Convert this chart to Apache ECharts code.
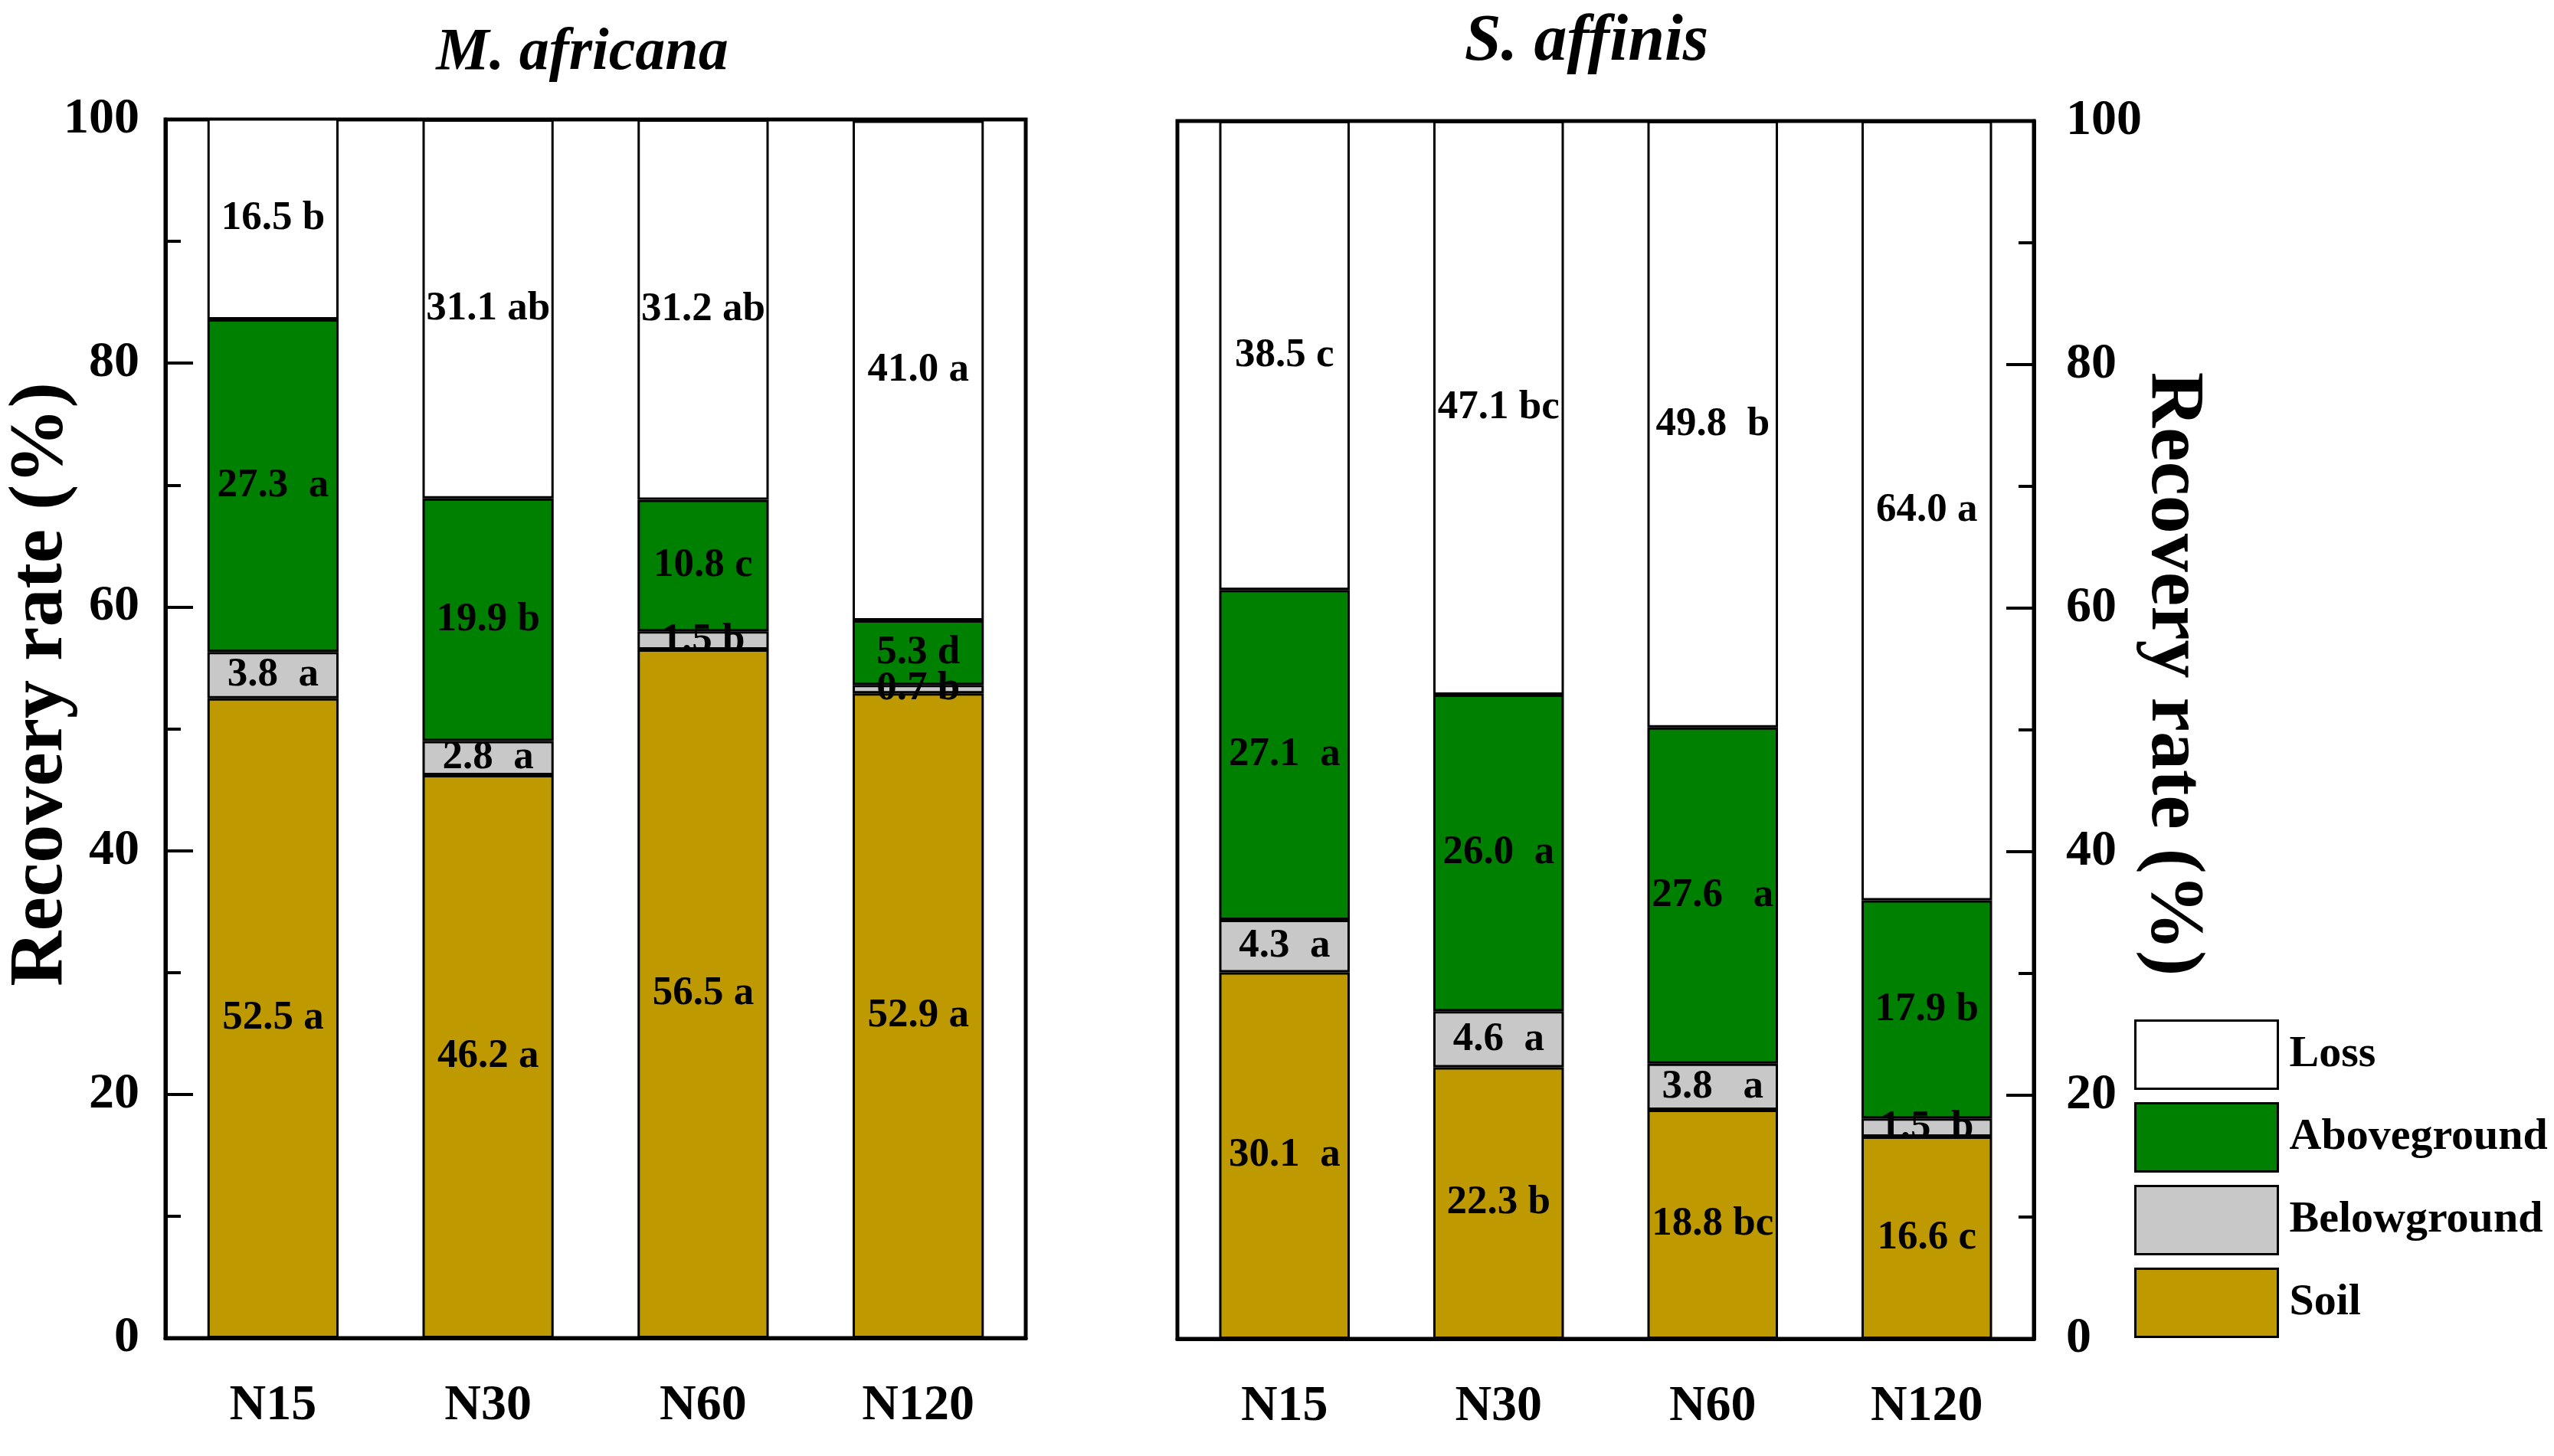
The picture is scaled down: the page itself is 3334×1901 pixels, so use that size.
<!DOCTYPE html>
<html>
<head>
<meta charset="utf-8">
<script src="https://cdn.jsdelivr.net/npm/echarts@6/dist/echarts.min.js"></script>
<style>
html, body { margin: 0; padding: 0; background: #fff; }
#chart { width: 3334px; height: 1901px; }
</style>
</head>
<body>
<div id="chart"></div>
<script>
var categories = ['N15', 'N30', 'N60', 'N120'];

// M. africana
var maSoil = [52.5, 46.2, 56.5, 52.9];
var maSoilSig = ['a', 'a', 'a', 'a'];
var maBelow = [3.8, 2.8, 1.5, 0.7];
var maBelowSig = [' a', ' a', 'b', 'b'];
var maAbove = [27.3, 19.9, 10.8, 5.3];
var maAboveSig = [' a', 'b', 'c', 'd'];
var maLoss = [16.5, 31.1, 31.2, 41.0];
var maLossSig = ['b', 'ab', 'ab', 'a'];

// S. affinis
var saSoil = [30.1, 22.3, 18.8, 16.6];
var saSoilSig = [' a', 'b', 'bc', 'c'];
var saBelow = [4.3, 4.6, 3.8, 1.5];
var saBelowSig = [' a', ' a', '  a', ' b'];
var saAbove = [27.1, 26.0, 27.6, 17.9];
var saAboveSig = [' a', ' a', '  a', 'b'];
var saLoss = [38.5, 47.1, 49.8, 64.0];
var saLossSig = ['c', 'bc', ' b', 'a'];

var serif = "'Liberation Serif', 'Times New Roman', serif";
var colors = {
    Loss: '#FFFFFF',
    Aboveground: '#008000',
    Belowground: '#C8C8C8',
    Soil: '#BE9A00'
};

var bdChart = echarts.init(document.getElementById('chart'));

function bar(name, values, sig, g) {
    return {
        name: name,
        type: 'bar',
        stack: 'g' + g,
        xAxisIndex: g * 2,
        yAxisIndex: g,
        barWidth: '61%',
        data: values,
        itemStyle: {color: colors[name], borderColor: '#000', borderWidth: 3},
        label: {
            show: true,
            position: 'inside',
            color: '#000',
            textBorderWidth: 0,
            fontFamily: serif,
            fontWeight: 'bold',
            fontSize: 53,
            formatter: function(p) {
                return values[p.dataIndex].toFixed(1) + ' ' + sig[p.dataIndex];
            }
        },
        emphasis: {disabled: true}
    };
}

function xMain(g) {
    return {
        type: 'category',
        gridIndex: g,
        data: categories,
        axisLine: {lineStyle: {color: '#000', width: 5}},
        axisTick: {alignWithLabel: true, inside: false, length: 32, lineStyle: {color: '#000', width: 4}},
        axisLabel: {color: '#000', fontFamily: serif, fontWeight: 'bold', fontSize: 66, margin: 56}
    };
}

// second axis only for the short inward ticks between categories
function xBounds(g) {
    return {
        type: 'category',
        gridIndex: g,
        position: 'bottom',
        data: categories,
        axisLine: {show: false},
        axisTick: {inside: true, length: 17, lineStyle: {color: '#000', width: 4}},
        axisLabel: {show: false}
    };
}

function yAxis(g, pos) {
    var right = pos == 'right';
    return {
        type: 'value',
        gridIndex: g,
        position: pos,
        min: 0,
        max: 100,
        interval: 20,
        name: 'Recovery rate (%)',
        nameLocation: 'middle',
        nameRotate: right ? -90 : 90,
        nameGap: right ? 131 : 112,
        nameMoveOverlap: false,
        nameTextStyle: {
            color: '#000', fontFamily: serif, fontWeight: 'bold', fontSize: 100,
            padding: right ? [0, 146, 0, 0] : [0, 0, 0, 116]
        },
        axisLine: {show: true, lineStyle: {color: '#000', width: 5}},
        axisTick: {show: true, inside: true, length: 36, lineStyle: {color: '#000', width: 4}},
        minorTick: {show: true, splitNumber: 2, length: 20, lineStyle: {color: '#000', width: 4}},
        splitLine: {show: false},
        axisLabel: {color: '#000', fontFamily: serif, fontWeight: 'bold', fontSize: 66, margin: right ? 42 : 34}
    };
}

var option = {
    backgroundColor: '#fff',
    animation: false,
    title: [
        {
            text: 'M. africana', left: 755, top: 26, textAlign: 'center',
            textStyle: {fontFamily: serif, fontStyle: 'italic', fontWeight: 'bold', fontSize: 78, color: '#000'}
        },
        {
            text: 'S. affinis', left: 2066, top: 8, textAlign: 'center',
            textStyle: {fontFamily: serif, fontStyle: 'italic', fontWeight: 'bold', fontSize: 86, color: '#000'}
        }
    ],
    legend: {
        orient: 'vertical',
        left: 2781,
        top: 1326,
        data: ['Loss', 'Aboveground', 'Belowground', 'Soil'],
        icon: 'rect',
        itemWidth: 186,
        itemHeight: 89,
        itemGap: 16,
        itemStyle: {borderColor: '#000', borderWidth: 3},
        selectedMode: false,
        textStyle: {color: '#000', fontFamily: serif, fontWeight: 'bold', fontSize: 58, padding: [20, 0, 0, 10]}
    },
    grid: [
        {left: 216, top: 156, width: 1123, height: 1591, outerBoundsMode: 'none', containLabel: false,
            show: true, borderColor: '#000', borderWidth: 5},
        {left: 1537, top: 158, width: 1118, height: 1590, outerBoundsMode: 'none', containLabel: false,
            show: true, borderColor: '#000', borderWidth: 5}
    ],
    xAxis: [xMain(0), xBounds(0), xMain(1), xBounds(1)],
    yAxis: [yAxis(0, 'left'), yAxis(1, 'right')],
    series: [
        bar('Soil', maSoil, maSoilSig, 0),
        bar('Belowground', maBelow, maBelowSig, 0),
        bar('Aboveground', maAbove, maAboveSig, 0),
        bar('Loss', maLoss, maLossSig, 0),
        bar('Soil', saSoil, saSoilSig, 1),
        bar('Belowground', saBelow, saBelowSig, 1),
        bar('Aboveground', saAbove, saAboveSig, 1),
        bar('Loss', saLoss, saLossSig, 1)
    ]
};

bdChart.setOption(option);
</script>
</body>
</html>
